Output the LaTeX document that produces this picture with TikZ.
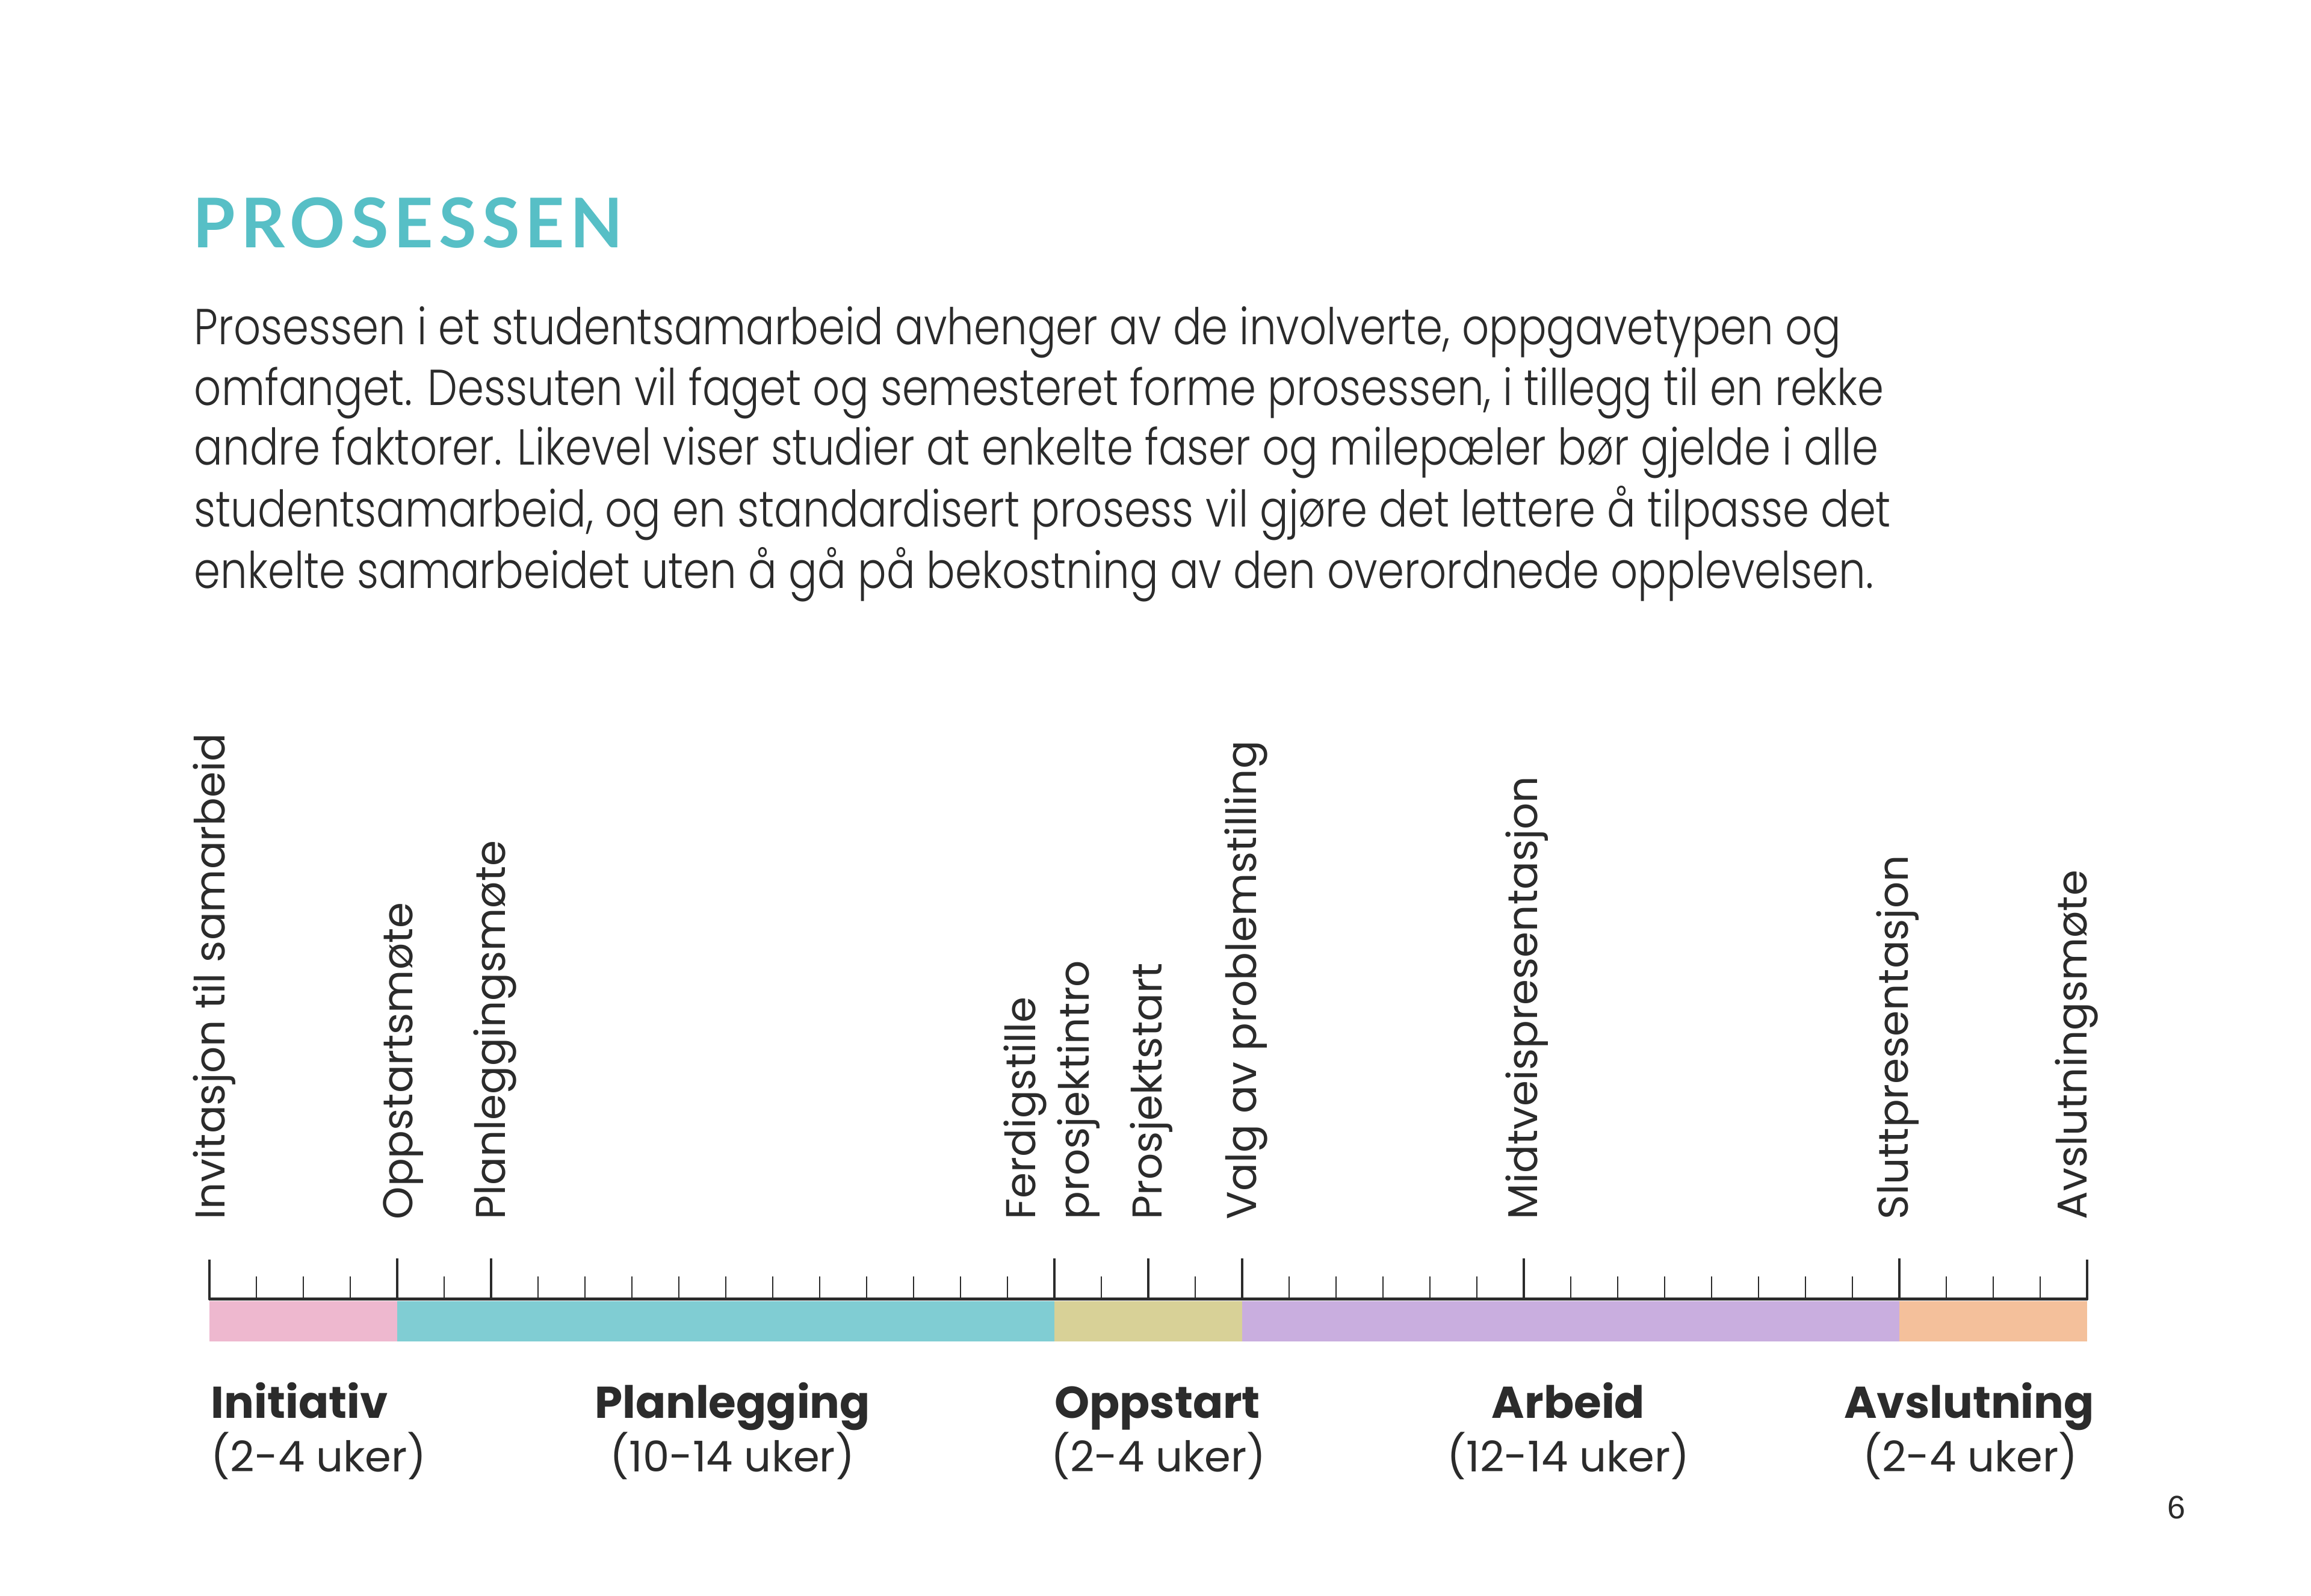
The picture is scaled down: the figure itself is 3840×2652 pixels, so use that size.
\documentclass[tikz,border=0pt]{standalone}
\usepackage{fontspec}
\newfontfamily\titlefont[LetterSpace=8]{Lato}
\newfontfamily\bodyfont[FakeStretch=0.84]{Poppins Light}
\newfontfamily\labfont{Poppins}
\newfontfamily\numfont{Liberation Sans}
\definecolor{ink}{HTML}{2B2B2B}
\definecolor{titlec}{HTML}{57BFC6}
\definecolor{pinkc}{HTML}{EEB8CF}
\definecolor{tealc}{HTML}{80CDD3}
\definecolor{khakic}{HTML}{D8D197}
\definecolor{purplec}{HTML}{C9AEDF}
\definecolor{orangec}{HTML}{F4C09B}
\tikzset{
  ms/.style={rotate=90, anchor=base west, inner sep=0pt, text=ink,
    font=\labfont\fontsize{17.3}{21}\selectfont},
  phase/.style={anchor=base, inner sep=0pt, text=ink,
    font=\labfont\bfseries\fontsize{18.5}{22}\selectfont},
  dur/.style={anchor=base, inner sep=0pt, text=ink,
    font=\labfont\fontsize{17.6}{22}\selectfont},
  bodyline/.style={anchor=base west, inner sep=0pt, text=ink,
    font=\bodyfont\fontsize{21}{25}\selectfont},
  minortick/.style={draw=ink, line width=0.5pt},
  majortick/.style={draw=ink, line width=0.8pt},
  axisline/.style={draw=ink, line width=1.25pt},
}
\begin{document}
\begin{tikzpicture}[x=0.25pt,y=-0.25pt]
\useasboundingbox (0,0) rectangle (3840,2652);
\fill[white] (0,0) rectangle (3840,2652);

% title and text
\node[anchor=base west, inner sep=0pt, text=titlec, font=\titlefont\bfseries\fontsize{28.5}{32}\selectfont] (title) at (320,412) {PROSESSEN};
\node[bodyline] (l1) at (322,573) {Prosessen i et studentsamarbeid avhenger av de involverte, oppgavetypen og};
\node[bodyline] (l2) at (322,673) {omfanget. Dessuten vil faget og semesteret forme prosessen, i tillegg til en rekke};
\node[bodyline] (l3) at (322,773) {andre faktorer. Likevel viser studier at enkelte faser og milepæler bør gjelde i alle};
\node[bodyline] (l4) at (322,875) {studentsamarbeid, og en standardisert prosess vil gjøre det lettere å tilpasse det};
\node[bodyline] (l5) at (322,977) {enkelte samarbeidet uten å gå på bekostning av den overordnede opplevelsen.};

% colour bands
\fill[pinkc]   (348,2162) rectangle (660,2229);
\fill[tealc]   (660,2162) rectangle (1752,2229);
\fill[khakic]  (1752,2162) rectangle (2064,2229);
\fill[purplec] (2064,2162) rectangle (3156,2229);
\fill[orangec] (3156,2162) rectangle (3468,2229);

% ticks
\foreach \i in {1,2,3,5,7,8,9,10,11,12,13,14,15,16,17,19,21,23,24,25,26,27,29,30,31,32,33,34,35,37,38,39}
  \draw[minortick] ({348+78*\i},2121) -- ({348+78*\i},2158);
\foreach \i in {4,6,18,20,22,28,36}
  \draw[majortick] ({348+78*\i},2091) -- ({348+78*\i},2158);
\draw[draw=ink, line width=1pt] (348,2093) -- (348,2160);
\draw[draw=ink, line width=1pt] (3468,2093) -- (3468,2160);
\draw[axisline] (347,2158) -- (3469,2158);

% milestone labels
\node[ms] (m1) at (373,2027) {Invitasjon til samarbeid};
\node[ms] (m2) at (685,2027) {Oppstartsmøte};
\node[ms] (m3) at (839,2027) {Planleggingsmøte};
\node[ms] (m4a) at (1720,2027) {Ferdigstille};
\node[ms] (m4b) at (1809,2027) {prosjektintro};
\node[ms] (m5) at (1930,2027) {Prosjektstart};
\node[ms] (m6) at (2087,2027) {Valg av problemstilling};
\node[ms] (m7) at (2554,2027) {Midtveispresentasjon};
\node[ms] (m8) at (3170,2027) {Sluttpresentasjon};
\node[ms] (m9) at (3467,2027) {Avslutningsmøte};

% phase labels
\node[phase, anchor=base west] (p1) at (350,2356) {Initiativ};
\node[dur, anchor=base west] (d1) at (350,2445) {(2-4 uker)};
\node[phase] (p2) at (1217,2356) {Planlegging};
\node[dur] (d2) at (1217,2445) {(10-14 uker)};
\node[phase] (p3) at (1923,2356) {Oppstart};
\node[dur] (d3) at (1925,2445) {(2-4 uker)};
\node[phase] (p4) at (2606,2356) {Arbeid};
\node[dur] (d4) at (2606,2445) {(12-14 uker)};
\node[phase] (p5) at (3272,2356) {Avslutning};
\node[dur] (d5) at (3274,2445) {(2-4 uker)};

% page number
\node[anchor=base, inner sep=0pt, text=ink, font=\numfont\fontsize{13.5}{16}\selectfont] (pg) at (3616,2523) {6};
\end{tikzpicture}
\end{document}
